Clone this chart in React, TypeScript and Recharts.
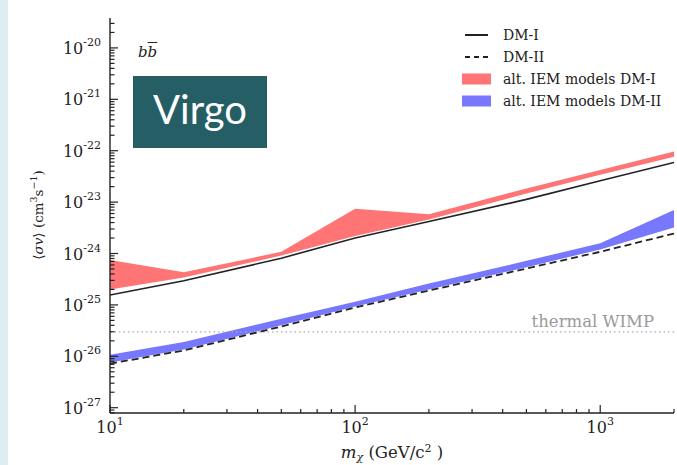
import React from 'react';
import { ComposedChart, Area, Line, XAxis, YAxis, ReferenceLine } from 'recharts';

// dark matter mass (GeV/c^2)
const masses = [10, 20, 50, 100, 200, 500, 1000, 2000];
// <sigma v> upper limits (cm^3 s^-1)
const dmI = [1.56e-25, 2.95e-25, 8.1e-25, 2.0e-24, 4.2e-24, 1.13e-23, 2.6e-23, 5.9e-23];
const dmII = [7.2e-27, 1.3e-26, 3.8e-26, 8.9e-26, 1.9e-25, 5.1e-25, 1.08e-24, 2.45e-24];
// alt. IEM model envelopes
const iemILow = [2.0e-25, 3.4e-25, 9.1e-25, 2.2e-24, 4.6e-24, 1.47e-23, 3.4e-23, 7.6e-23];
const iemIHigh = [7.5e-25, 4.3e-25, 1.08e-24, 7.4e-24, 5.8e-24, 1.84e-23, 4.2e-23, 9.6e-23];
const iemIILow = [7.6e-27, 1.35e-26, 4.0e-26, 9.3e-26, 2.0e-25, 5.4e-25, 1.2e-24, 3.2e-24];
const iemIIHigh = [1.07e-26, 1.9e-26, 5.4e-26, 1.15e-25, 2.6e-25, 7.2e-25, 1.58e-24, 7.0e-24];
const thermalWimp = 3e-26;

const legendItems = [
  { label: 'DM-I', kind: 'solid' },
  { label: 'DM-II', kind: 'dashed' },
  { label: 'alt. IEM models DM-I', kind: 'red' },
  { label: 'alt. IEM models DM-II', kind: 'blue' },
];

const RED = '#ff7474';
const BLUE = '#7878ff';
const INK = '#222';
const SERIF = "'DejaVu Serif', serif";

const X_DOMAIN = [1, Math.log10(2000)];
const Y_DOMAIN = [-27.103, -19.418];

const lg = (v: number) => Math.log10(v);

const data = masses.map((m, i) => ({
  lm: lg(m),
  dmI: lg(dmI[i]),
  dmII: lg(dmII[i]),
  iemI: [lg(iemILow[i]), lg(iemIHigh[i])],
  iemII: [lg(iemIILow[i]), lg(iemIIHigh[i])],
}));

function logTicks(lo: number, hi: number) {
  const out: number[] = [];
  for (let e = Math.floor(lo); e <= Math.ceil(hi); e++) {
    for (let k = 1; k <= 9; k++) {
      const v = e + Math.log10(k);
      if (v >= lo - 1e-9 && v <= hi + 1e-9) out.push(v);
    }
  }
  return out;
}

const xTicks = logTicks(X_DOMAIN[0], X_DOMAIN[1]);
const yTicks = logTicks(Y_DOMAIN[0], Y_DOMAIN[1]);
const isMajor = (v: number) => Math.abs(v - Math.round(v)) < 1e-6;

const YLeftTick = ({ x, y, payload }: any) => {
  const major = isMajor(payload.value);
  return (
    <g>
      <line x1={x} x2={x + (major ? 8 : 4.5)} y1={y} y2={y} stroke={INK} strokeWidth={1.2} />
      {major && (
        <text x={x - 9} y={y + 6} textAnchor="end" fontFamily={SERIF} fontSize={16} fill={INK}>
          10<tspan dy={-8} fontSize={11}>{Math.round(payload.value)}</tspan>
        </text>
      )}
    </g>
  );
};

const YRightTick = ({ x, y, payload }: any) => {
  const major = isMajor(payload.value);
  return <line x1={x} x2={x - (major ? 8 : 4.5)} y1={y} y2={y} stroke={INK} strokeWidth={1.2} />;
};

const XBottomTick = ({ x, y, payload }: any) => {
  const major = isMajor(payload.value);
  return (
    <g>
      <line x1={x} x2={x} y1={y} y2={y - (major ? 8 : 4)} stroke={INK} strokeWidth={1.2} />
      {major && (
        <text x={x} y={y + 20} textAnchor="middle" fontFamily={SERIF} fontSize={16} fill={INK}>
          10<tspan dy={-8} fontSize={11}>{Math.round(payload.value)}</tspan>
        </text>
      )}
    </g>
  );
};

const XTopTick = ({ x, y, payload }: any) => {
  const major = isMajor(payload.value);
  return <line x1={x} x2={x} y1={y} y2={y + (major ? 8 : 4)} stroke={INK} strokeWidth={1.2} />;
};

const YLabel = () => (
  <text
    x={43}
    y={215}
    transform="rotate(-90 43 215)"
    textAnchor="middle"
    fontFamily={SERIF}
    fontSize={13.5}
    fill={INK}
  >
    ⟨<tspan fontStyle="italic">σv</tspan>⟩ (cm<tspan dy={-6} fontSize={9.5}>3</tspan>
    <tspan dy={6}>s</tspan><tspan dy={-6} fontSize={9.5}>−1</tspan><tspan dy={6}>)</tspan>
  </text>
);

const XLabel = () => (
  <text x={392} y={458} textAnchor="middle" fontFamily={SERIF} fontSize={16.5} fill={INK}>
    <tspan fontStyle="italic">m</tspan>
    <tspan dy={3} fontSize={11} fontStyle="italic">χ</tspan>
    <tspan dy={-3}> (GeV/c</tspan>
    <tspan dy={-6} fontSize={11}>2</tspan>
    <tspan dy={6}> )</tspan>
  </text>
);

const WimpLabel = ({ viewBox }: any) => (
  <text
    x={viewBox.x + viewBox.width - 20}
    y={viewBox.y - 5}
    textAnchor="end"
    fontFamily={SERIF}
    fontSize={16.5}
    fill="#9a9a9a"
  >
    thermal WIMP
  </text>
);

const ChartLegend = () => (
  <div style={{ position: 'absolute', left: 455, top: 24, fontFamily: SERIF, fontSize: 14, color: INK }}>
    {legendItems.map((item) => (
      <div key={item.label} style={{ display: 'flex', alignItems: 'center', height: 22 }}>
        <svg width={48} height={22}>
          {item.kind === 'solid' && <line x1={10} x2={33} y1={11} y2={11} stroke={INK} strokeWidth={2} />}
          {item.kind === 'dashed' && (
            <line x1={10} x2={33} y1={11} y2={11} stroke={INK} strokeWidth={2} strokeDasharray="5 4" />
          )}
          {item.kind === 'red' && <rect x={7} y={5.5} width={29} height={11} fill={RED} />}
          {item.kind === 'blue' && <rect x={7} y={5.5} width={29} height={11} fill={BLUE} />}
        </svg>
        <span style={{ whiteSpace: 'nowrap' }}>{item.label}</span>
      </div>
    ))}
  </div>
);

export default function App() {
  return (
    <div style={{ position: 'absolute', left: 0, top: 0, width: 677, height: 465, background: '#fff' }}>
      <div style={{ position: 'absolute', left: 0, top: 0, width: 8, height: 465, background: '#ddeef3' }} />
      <ComposedChart
        width={677}
        height={465}
        data={data}
        margin={{ top: 18, right: 3, bottom: 12, left: 50 }}
      >
        <XAxis
          dataKey="lm"
          type="number"
          domain={X_DOMAIN}
          allowDataOverflow
          ticks={xTicks}
          interval={0}
          tick={<XBottomTick />}
          tickLine={false}
          tickSize={0}
          tickMargin={0}
          height={40}
          axisLine={{ stroke: INK, strokeWidth: 1.4 }}
        />
        <XAxis
          xAxisId="top"
          orientation="top"
          type="number"
          domain={X_DOMAIN}
          allowDataOverflow
          ticks={xTicks}
          interval={0}
          tick={<XTopTick />}
          tickLine={false}
          tickSize={0}
          tickMargin={0}
          height={0}
          axisLine={{ stroke: INK, strokeWidth: 1.4 }}
        />
        <YAxis
          type="number"
          domain={Y_DOMAIN}
          allowDataOverflow
          ticks={yTicks}
          interval={0}
          tick={<YLeftTick />}
          tickLine={false}
          tickSize={0}
          tickMargin={0}
          width={60}
          axisLine={{ stroke: INK, strokeWidth: 1.4 }}
        />
        <YAxis
          yAxisId="right"
          orientation="right"
          type="number"
          domain={Y_DOMAIN}
          allowDataOverflow
          ticks={yTicks}
          interval={0}
          tick={<YRightTick />}
          tickLine={false}
          tickSize={0}
          tickMargin={0}
          width={0}
          axisLine={{ stroke: INK, strokeWidth: 1.4 }}
        />
        <ReferenceLine
          y={lg(thermalWimp)}
          stroke="#aaa"
          strokeWidth={1.2}
          strokeDasharray="1.5 3"
          label={<WimpLabel />}
        />
        <Area
          dataKey="iemI"
          type="linear"
          fill={RED}
          fillOpacity={1}
          stroke="none"
          isAnimationActive={false}
        />
        <Area
          dataKey="iemII"
          type="linear"
          fill={BLUE}
          fillOpacity={1}
          stroke="none"
          isAnimationActive={false}
        />
        <Line dataKey="dmI" type="linear" stroke={INK} strokeWidth={1.6} dot={false} isAnimationActive={false} />
        <Line
          dataKey="dmII"
          type="linear"
          stroke={INK}
          strokeWidth={1.8}
          strokeDasharray="7 4"
          dot={false}
          isAnimationActive={false}
        />
        <YLabel />
        <XLabel />
      </ComposedChart>
      <ChartLegend />
      <div
        style={{
          position: 'absolute',
          left: 138,
          top: 43,
          fontFamily: SERIF,
          fontSize: 15,
          fontStyle: 'italic',
          color: INK,
        }}
      >
        b<span style={{ textDecoration: 'overline' }}>b</span>
      </div>
      <div
        style={{
          position: 'absolute',
          left: 133,
          top: 76,
          width: 134,
          height: 72,
          background: '#255f65',
          color: '#fff',
          fontFamily: 'Lato, sans-serif',
          fontSize: 40,
          lineHeight: '67px',
          textAlign: 'center',
        }}
      >
        Virgo
      </div>
    </div>
  );
}
